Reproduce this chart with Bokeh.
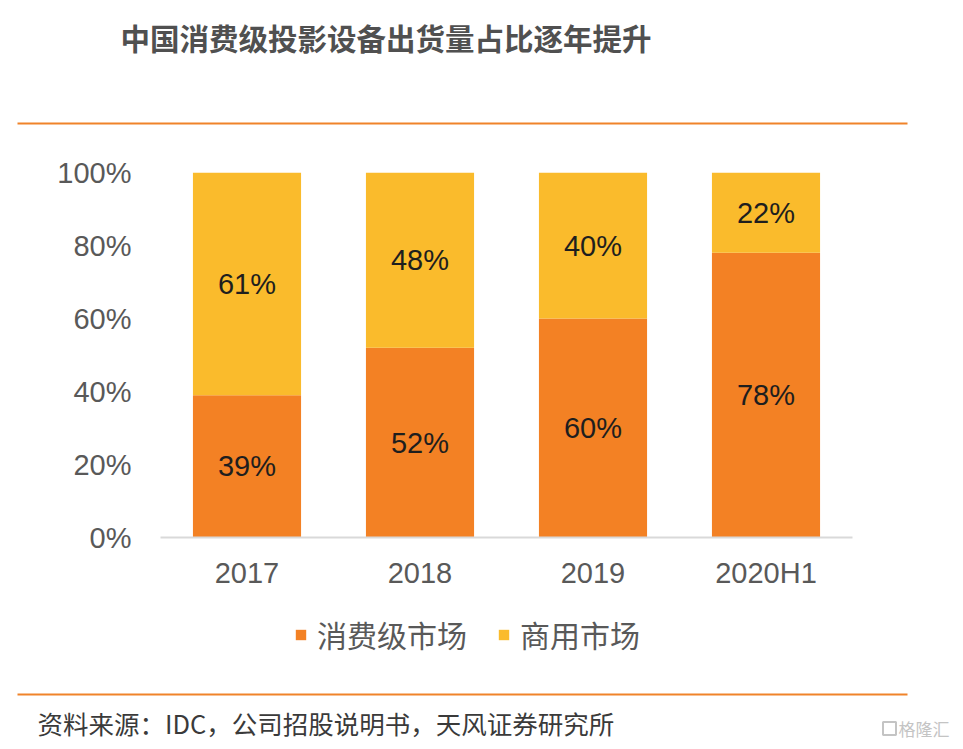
from bokeh.plotting import figure
from bokeh.models import Range1d, FactorRange, Legend, LegendItem, ColumnDataSource
from bokeh.layouts import column
from bokeh.embed import file_html
from bokeh.resources import INLINE
from bokeh.core.properties import value

# ---------------- data ----------------
categories = ["2017", "2018", "2019", "2020H1"]
consumer = [0.39, 0.52, 0.60, 0.78]
commercial = [0.61, 0.48, 0.40, 0.22]
series_names = ["消费级市场", "商用市场"]
y_ticks = [0, 0.2, 0.4, 0.6, 0.8, 1.0]
title_text = "中国消费级投影设备出货量占比逐年提升"
source_text = "资料来源：IDC，公司招股说明书，天风证券研究所"
watermark_text = "格隆汇"

ORANGE = "#F38124"
YELLOW = "#FABB2C"
LINE_ORANGE = "#F0832A"
W = 955
NUM_FONT = "Liberation Sans"
CJK_FONT = "Noto Sans CJK SC"


def blank(h, xr=None, yr=None):
    f = figure(width=W, height=h, output_backend="svg", toolbar_location=None,
               x_range=xr if xr is not None else Range1d(0, W),
               y_range=yr if yr is not None else Range1d(h, 0),
               x_axis_location=None, y_axis_location=None, min_border=0,
               frame_align=False)
    f.grid.visible = False
    f.outline_line_color = None
    return f


# ---------------- header ----------------
hdr_h = 128
hdr = blank(hdr_h)
hdr.text(x=[120], y=[36], text=[title_text], text_font=value(CJK_FONT),
         text_font_size="29.5px", text_font_style="bold", text_color="#505050",
         text_baseline="middle", text_align="left")
hdr.segment(x0=[17], y0=[123], x1=[907], y1=[123], line_color=LINE_ORANGE, line_width=2)

# ---------------- main chart ----------------
main_h = 472
p = figure(width=W, height=main_h, output_backend="svg", toolbar_location=None,
           x_range=FactorRange(*categories, range_padding=0), y_range=Range1d(0, 1),
           min_border_left=160, min_border_right=W - 852, min_border_top=44,
           min_border_bottom=main_h - 44 - 365, frame_align=False)
p.outline_line_color = None
p.grid.visible = False

src = ColumnDataSource(dict(cat=categories, consumer=consumer, commercial=commercial))
stack_cols = ["consumer", "commercial"]
p.vbar_stack(stack_cols, x="cat", width=0.625, source=src,
             color=[ORANGE, YELLOW], line_color=None)

# value labels at segment centres
lab_src = ColumnDataSource(dict(
    x=categories + categories,
    y=[c / 2 for c in consumer] + [c + m / 2 for c, m in zip(consumer, commercial)],
    t=[f"{round(v*100)}%" for v in consumer] + [f"{round(v*100)}%" for v in commercial],
))
p.text(x="x", y="y", text="t", source=lab_src, text_font=value(NUM_FONT),
       text_font_size="29px", text_color="#1E1E1E", text_align="center",
       text_baseline="middle")

# axes
p.yaxis.ticker = y_ticks
p.yaxis.major_label_overrides = {t: f"{int(round(t*100))}%" for t in y_ticks}
p.yaxis.axis_line_color = None
p.yaxis.major_tick_line_color = None
p.yaxis.minor_tick_line_color = None
p.yaxis.major_label_standoff = 23
p.yaxis.major_label_text_font = NUM_FONT
p.yaxis.major_label_text_font_size = "29px"
p.yaxis.major_label_text_color = "#595959"

p.xaxis.axis_line_color = "#D9D9D9"
p.xaxis.axis_line_width = 2
p.xaxis.major_tick_line_color = None
p.xaxis.minor_tick_line_color = None
p.xaxis.major_label_standoff = 13
p.xaxis.major_label_text_font = NUM_FONT
p.xaxis.major_label_text_font_size = "29px"
p.xaxis.major_label_text_color = "#595959"

# ---------------- legend strip ----------------
leg_h = 86
leg = blank(leg_h, xr=FactorRange(*categories), yr=Range1d(5, 6))
# same stacked bars (out of view here) serve as the legend's renderers
lrs = leg.vbar_stack(stack_cols, x="cat", width=0.625, source=src,
                     color=[ORANGE, YELLOW], line_color=None)
legend = Legend(items=[LegendItem(label=series_names[i], renderers=[lrs[i]]) for i in range(2)],
                orientation="horizontal", location=(294, 30),
                label_text_font=CJK_FONT, label_text_font_size="30px",
                label_text_color="#595959", glyph_width=13, glyph_height=13,
                label_standoff=10, spacing=30, padding=0, margin=0,
                border_line_color=None, background_fill_alpha=0, label_height=30)
leg.add_layout(legend, "center")

# ---------------- footer ----------------
ftr_h = 55
ftr = blank(ftr_h)
ftr.segment(x0=[17], y0=[8], x1=[907], y1=[8], line_color=LINE_ORANGE, line_width=2)
ftr.text(x=[37], y=[36], text=[source_text], text_font=value(CJK_FONT),
         text_font_size="25.5px", text_color="#3A3A3A", text_baseline="middle",
         text_align="left")
ftr.text(x=[898], y=[42], text=[watermark_text], text_font=value(CJK_FONT),
         text_font_size="17px", text_color="#C4C4C4", text_baseline="middle",
         text_align="left")
ftr.rect(x=[889], y=[42], width=13, height=13, fill_color=None,
         line_color="#C4C4C4", line_width=2)

layout = column(hdr, p, leg, ftr, spacing=0)
open("out.html", "w").write(file_html(layout, INLINE))
